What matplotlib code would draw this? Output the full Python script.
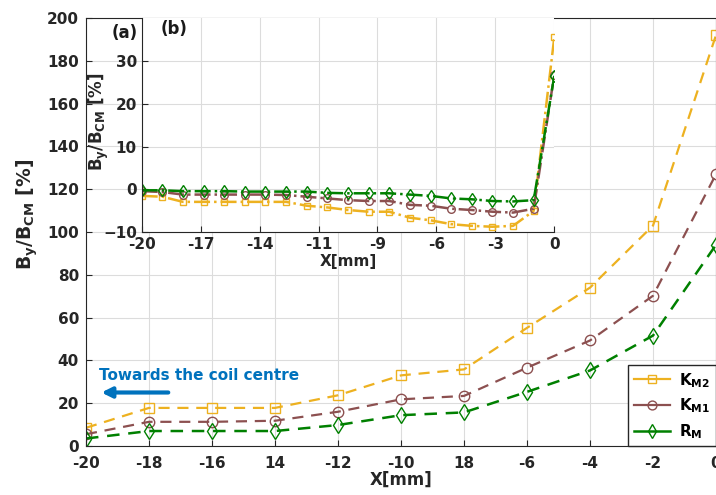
import numpy as np
import matplotlib
matplotlib.use("Agg")
import matplotlib.pyplot as plt

plt.rcParams['font.family'] = ['DejaVu Sans']
plt.rcParams['font.weight'] = 'bold'

# main panel data
x_main = [-20, -18, -16, -14, -12, -10, -8, -6, -4, -2, 0]
x_main_labels = ['-20', '-18', '-16', '14', '-12', '-10', '18', '-6', '-4', '-2', '0']
km2_main = [8.5, 17.8, 17.8, 17.8, 23.7, 33.0, 35.8, 55.2, 74.0, 103.0, 192.0]
km1_main = [5.5, 11.3, 11.3, 11.8, 16.0, 21.8, 23.4, 36.6, 49.3, 70.2, 127.0]
rm_main = [3.5, 7.0, 7.0, 7.0, 9.8, 14.4, 15.7, 25.3, 35.3, 51.6, 94.0]

# inset data
x_in = list(range(-20, 1))
km2_in = [-1.5, -1.7, -2.9, -2.9, -2.9, -2.9, -2.9, -2.9, -3.8, -4.2, -4.8,
          -5.2, -5.2, -6.6, -7.2, -8.1, -8.5, -8.7, -8.5, -5.0, 35.5]
km1_in = [-0.4, -0.6, -1.2, -1.2, -1.2, -1.2, -1.2, -1.3, -1.7, -2.1, -2.5,
          -2.7, -2.7, -3.6, -3.8, -4.5, -4.8, -5.2, -5.4, -4.5, 26.8]
rm_in = [-0.2, -0.2, -0.4, -0.4, -0.4, -0.5, -0.5, -0.5, -0.5, -0.8, -0.9,
         -0.9, -0.9, -1.2, -1.5, -2.1, -2.3, -2.7, -2.8, -2.5, 26.5]
x_in_ticklabels = ['-20', '-17', '-14', '-11', '-9', '-6', '-3', '0']

c_km2 = '#EDB120'
c_km1 = '#8C5050'
c_rm = '#008000'
grid_c = '#dcdcdc'
ink = '#262626'

fig = plt.figure(figsize=(7.16, 4.95), dpi=100)
ax = fig.add_axes([86/716, 1-446/495, 630/716, 428/495])

ax.plot(x_main, km2_main, color=c_km2, marker='s', mfc='none', ms=6.5, lw=1.6, ls=(0, (5, 3.5)), label=r'$\mathbf{K_{M2}}$')
ax.plot(x_main, km1_main, color=c_km1, marker='o', mfc='none', ms=7.5, lw=1.6, ls=(0, (5, 3.5)), label=r'$\mathbf{K_{M1}}$')
ax.plot(x_main, rm_main, color=c_rm, marker='d', mfc='none', ms=8, lw=1.8, ls=(0, (5, 3.5)), label=r'$\mathbf{R_{M}}$')

ax.set_xlim(-20, 0)
ax.set_ylim(0, 200)
ax.set_xticks(x_main)
ax.set_xticklabels(x_main_labels)
ax.set_yticks(range(0, 201, 20))
ax.grid(True, color=grid_c, lw=0.8)
ax.tick_params(labelsize=11, colors=ink, direction='in', length=4)
ax.tick_params(axis='x', pad=7)
ax.tick_params(axis='y', pad=5)
for lab in ax.get_xticklabels() + ax.get_yticklabels():
    lab.set_fontweight('bold')
for s in ax.spines.values():
    s.set_color(ink)
ax.set_xlabel('X[mm]', fontsize=12, fontweight='bold', color=ink, labelpad=0)
ax.set_ylabel(r'$\mathbf{B_y/B_{CM}}$ [%]', fontsize=13.5, fontweight='bold', color=ink)
ax.yaxis.set_label_coords(-0.073, 0.542)

leg = ax.legend(loc='lower right', fontsize=11, frameon=True, fancybox=False,
                edgecolor=ink, framealpha=1, handlelength=2.4, handletextpad=0.6,
                borderaxespad=0, labelspacing=0.45, borderpad=0.35, markerscale=0.85)
leg.get_frame().set_linewidth(1.0)
for h in leg.get_lines():
    h.set_linestyle('-')

ax.annotate('', xy=(-19.6, 25), xytext=(-17.3, 25),
            arrowprops=dict(arrowstyle='-|>', color='#0072BD', lw=3, mutation_scale=15))
ax.text(-19.6, 33, 'Towards the coil centre', color='#0072BD', fontsize=11,
        fontweight='bold', va='center', ha='left')

ax.text(-19.2, 193, '(a)', fontsize=12, fontweight='bold', ha='left', va='center', color='#1a1a1a')

# inset
ai = fig.add_axes([141.7/716, 1-232.3/495, 412.6/716, 214.3/495])
ai.set_facecolor('white')
ai.plot(x_in, km2_in, '-.', color=c_km2, marker='s', mfc='none', ms=5, lw=1.8)
ai.plot(x_in, km1_in, '-.', color=c_km1, marker='o', mfc='none', ms=5.5, lw=1.8)
ai.plot(x_in, rm_in, '-.', color=c_rm, marker='d', mfc='none', ms=6, lw=1.8)
ai.set_xlim(-20, 0)
ai.set_ylim(-10, 40)
ai.set_xticks(np.linspace(-20, 0, 8))
ai.set_xticklabels(x_in_ticklabels)
ai.set_yticks([-10, 0, 10, 20, 30])
ai.grid(True, color=grid_c, lw=0.8)
ai.tick_params(labelsize=11, colors=ink, direction='in', length=4)
for lab in ai.get_xticklabels() + ai.get_yticklabels():
    lab.set_fontweight('bold')
for s in ai.spines.values():
    s.set_color(ink)
ai.spines['top'].set_visible(False)
ai.spines['right'].set_visible(False)
ai.set_xlabel('X[mm]', fontsize=11, fontweight='bold', color=ink, labelpad=1)
ai.set_ylabel(r'$\mathbf{B_y/B_{CM}}$ [%]', fontsize=12, fontweight='bold', color=ink)
ai.yaxis.set_label_coords(-0.075, 0.515)
ai.text(-19.1, 37.5, '(b)', fontsize=12, fontweight='bold', ha='left', va='center', color='#1a1a1a')

fig.savefig('out.png', dpi=100)
